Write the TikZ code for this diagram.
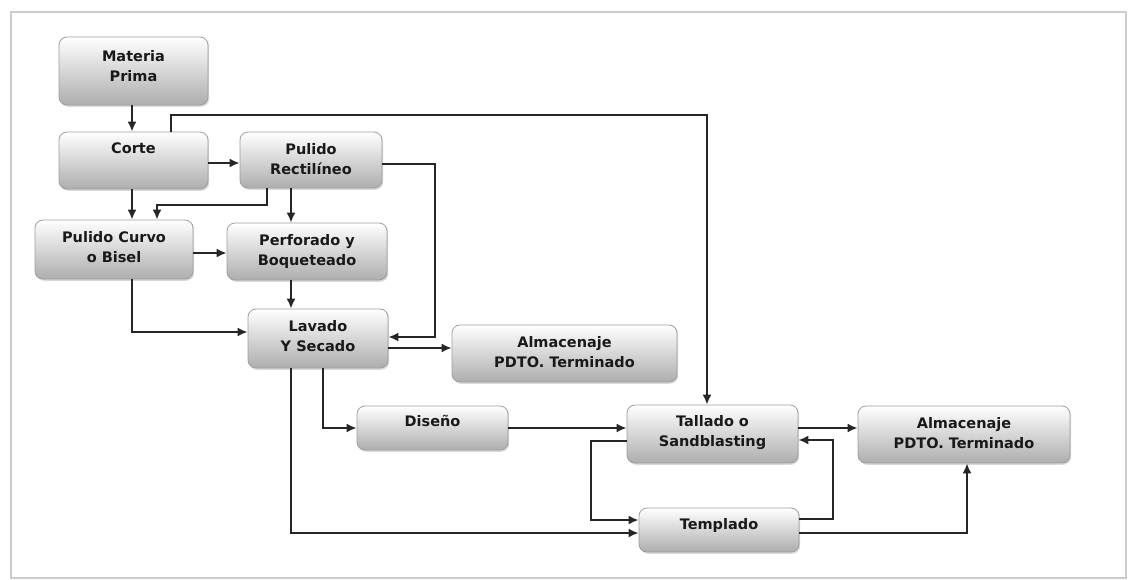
\documentclass[tikz,border=0pt]{standalone}
\usepackage{fontspec}
\setmainfont{DejaVu Sans}
\usetikzlibrary{arrows.meta,shadows}

\begin{document}
\begin{tikzpicture}[
  x=1pt, y=-1pt,
  font=\fontsize{14.5}{20}\selectfont\bfseries,
  procbox/.style={draw=black!38, line width=0.8pt, rounded corners=8pt,
    top color=white, middle color=black!5, bottom color=black!32,
    drop shadow={shadow xshift=1.2pt, shadow yshift=-1.8pt, opacity=0.3},
    align=center, text=black!90, inner sep=2pt},
  lift/.style={execute at end node={\rule[-#1]{0pt}{#1}}},
  flow/.style={draw=black!85, line width=1.9pt, -{Latex[length=10pt,width=9pt]}},
]
\useasboundingbox (0,0) rectangle (1128,579);

% outer frame
\draw[black!20, line width=1.6pt] (11,12) rectangle (1126,578);

% process boxes
\node[procbox, minimum width=149pt, minimum height=68pt, lift=10pt] (mp) at (133.5,71) {Materia\\Prima};
\node[procbox, minimum width=149pt, minimum height=57pt, lift=24pt] (corte) at (133.5,160.5) {Corte};
\node[procbox, minimum width=142pt, minimum height=56pt, lift=3pt] (prect) at (311,160) {Pulido\\Rectilíneo};
\node[procbox, minimum width=158pt, minimum height=59pt, lift=5pt] (pcurvo) at (114,249.5) {Pulido Curvo\\o Bisel};
\node[procbox, minimum width=160pt, minimum height=57pt, lift=4pt] (perf) at (307,251.5) {Perforado y\\Boqueteado};
\node[procbox, minimum width=140pt, minimum height=59pt, lift=5pt] (lavado) at (318,338.5) {Lavado\\Y Secado};
\node[procbox, minimum width=225pt, minimum height=57pt, lift=4pt] (alma) at (564.5,353.5) {Almacenaje\\PDTO. Terminado};
\node[procbox, minimum width=151pt, minimum height=44pt, lift=14pt] (diseno) at (432.5,428) {Diseño};
\node[procbox, minimum width=171pt, minimum height=58pt, lift=6pt] (tallado) at (712.5,434) {Tallado o\\Sandblasting};
\node[procbox, minimum width=212pt, minimum height=57pt, lift=4pt] (almb) at (964,434.5) {Almacenaje\\PDTO. Terminado};
\node[procbox, minimum width=160pt, minimum height=44pt, lift=12pt] (templado) at (719,530) {Templado};

% connectors
\draw[flow] ([xshift=-1.5pt]mp.south) -- ([xshift=-1.5pt]corte.north);
\draw[flow] ([xshift=-1.5pt]corte.south) -- ([xshift=-1.5pt]corte.south |- pcurvo.north);
\draw[flow] ([xshift=-44pt]prect.south) -- ++(0,17) -| ([xshift=43pt]pcurvo.north);
\draw[flow] ([xshift=-20pt]prect.south) -- ([xshift=-20pt]prect.south |- perf.north);
\draw[flow] ([yshift=-2.5pt]corte.east) -- ([yshift=-2.5pt]corte.east -| prect.west);
\draw[flow] ([yshift=-3.5pt]pcurvo.east) -- ([yshift=-3.5pt]pcurvo.east -| perf.west);
\draw[flow] ([xshift=-16pt]perf.south) -- ([xshift=-16pt]perf.south |- lavado.north);
\draw[flow] ([xshift=18pt]pcurvo.south) |- ([yshift=6.5pt]lavado.west);
\draw[flow] ([yshift=-4pt]prect.east) -- ++(53,0) |- ([yshift=1.5pt]lavado.east);
\draw[flow] ([yshift=-9.5pt]lavado.east) -- ([yshift=-9.5pt]lavado.east -| alma.west);
\draw[flow] ([xshift=37.5pt]corte.north) -- ++(0,-17) -| ([xshift=-5.5pt]tallado.north);
\draw[flow] ([xshift=5pt]lavado.south) |- (diseno.west);
\draw[flow] ([xshift=-27pt]lavado.south) |- ([yshift=-3pt]templado.west);
\draw[flow] (diseno.east) -- (diseno.east -| tallado.west);
\draw[flow] ([yshift=-7pt]tallado.west) -- ++(-36,0) |- ([yshift=10pt]templado.west);
\draw[flow] ([yshift=11pt]templado.east) -- ++(34,0) |- ([yshift=-6pt]tallado.east);
\draw[flow] ([yshift=6pt]tallado.east) -- ([yshift=6pt]tallado.east -| almb.west);
\draw[flow] ([yshift=-3pt]templado.east) -| ([xshift=3pt]almb.south);
\end{tikzpicture}
\end{document}
